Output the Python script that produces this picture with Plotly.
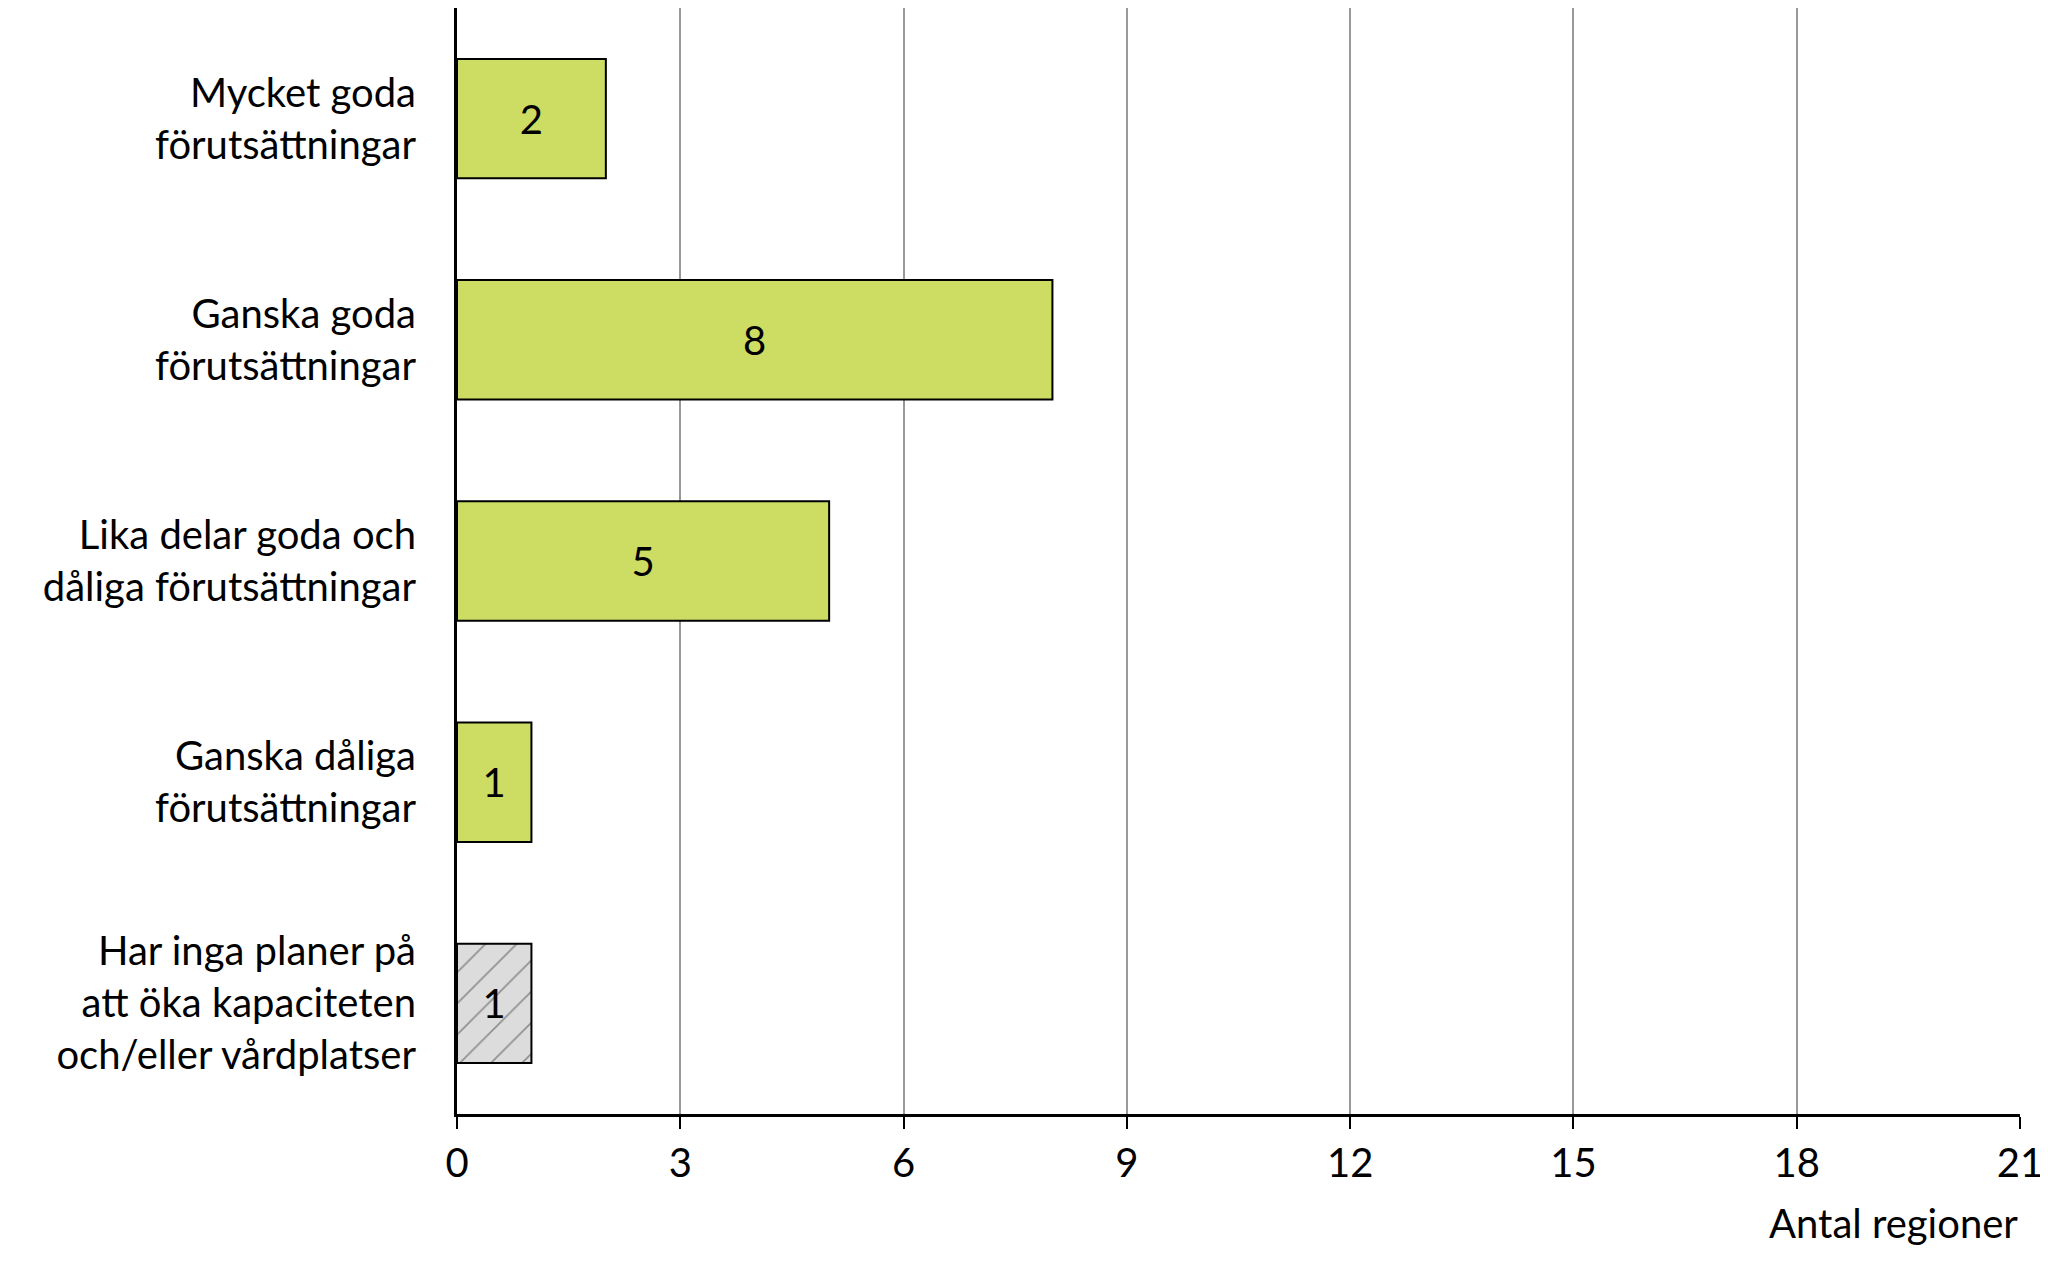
import plotly.graph_objects as go

categories = ["Mycket goda<br>förutsättningar", "Ganska goda<br>förutsättningar",
              "Lika delar goda och<br>dåliga förutsättningar", "Ganska dåliga<br>förutsättningar",
              "Har inga planer på<br>att öka kapaciteten<br>och/eller vårdplatser"]
values = [2, 8, 5, 1, 1]
colors = ["#cddc62"] * 4 + ["#dcdcdc"]
patterns = ["", "", "", "", "/"]
tickvals = [0, 3, 6, 9, 12, 15, 18, 21]

font = "Lato"
fig = go.Figure(go.Bar(
    y=categories, x=values, orientation="h", width=0.54,
    marker=dict(color=colors, line=dict(color="black", width=2),
                pattern=dict(shape=patterns, fgcolor="#555555", size=22, solidity=0.08)),
    text=[str(v) for v in values], textposition="inside", insidetextanchor="middle",
    textfont=dict(color="black", size=40, family=font), textangle=0,
))
fig.update_layout(
    width=2048, height=1261, plot_bgcolor="white", paper_bgcolor="white",
    margin=dict(l=449, r=36, t=0, b=155), showlegend=False,
    font=dict(family=font, size=40, color="black"),
    xaxis=dict(range=[0, 21], tickvals=tickvals, showgrid=True, gridcolor="#999999", gridwidth=1.5,
               showline=True, linecolor="black", linewidth=3, ticks="outside", ticklen=12,
               tickwidth=2, tickcolor="black", zeroline=False, tickfont=dict(size=40)),
    yaxis=dict(autorange="reversed", showline=True, linecolor="black", linewidth=3,
               ticks="", ticklabelstandoff=30, tickfont=dict(size=40)),
    annotations=[dict(text="Antal regioner", x=1, xref="paper", xanchor="right",
                      y=-0.075, yref="paper", yanchor="top", showarrow=False,
                      font=dict(size=40))],
)
fig.write_html("out.html")
